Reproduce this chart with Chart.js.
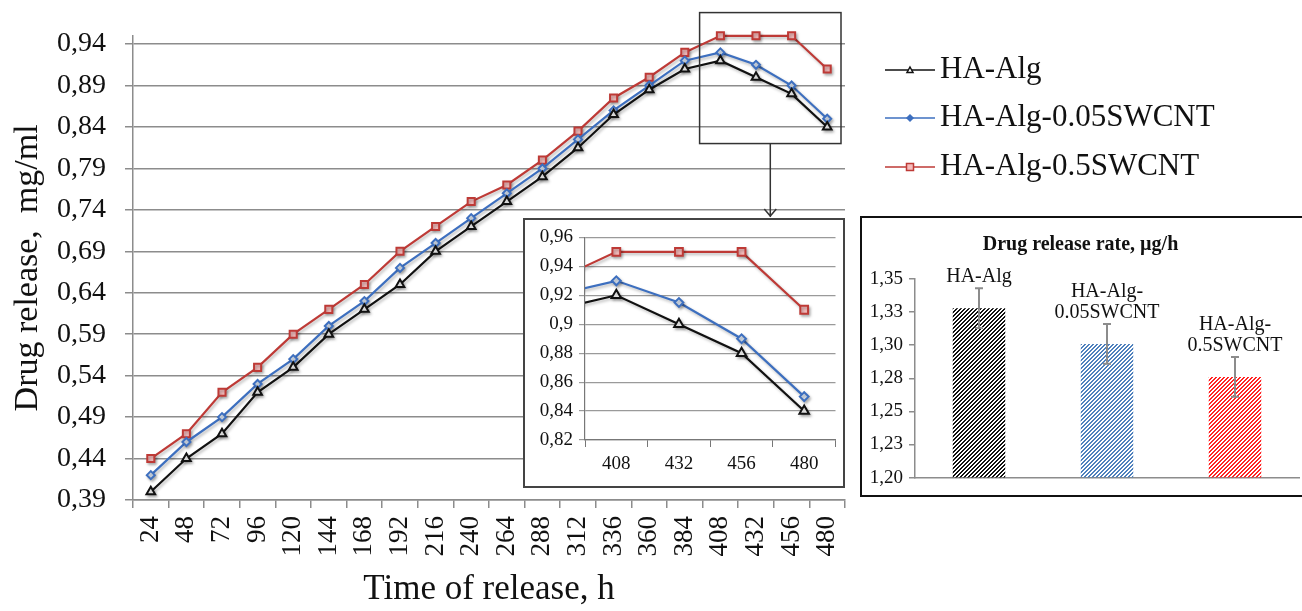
<!DOCTYPE html>
<html>
<head>
<meta charset="utf-8">
<script src="https://cdn.jsdelivr.net/npm/chart.js@4.4.1/dist/chart.umd.min.js"></script>
<style>
  html, body { margin: 0; padding: 0; background: #fff; overflow: hidden; }
  #wrap { position: relative; width: 1302px; height: 611px; }
  #main { position: absolute; left: 0; top: 0; }
  #zoomBox { position: absolute; left: 523px; top: 218px; width: 318px; height: 266px; border: 2px solid #444; background: #fff; }
  #rateBox { position: absolute; left: 860px; top: 216px; width: 450px; height: 277px; border: 2px solid #111; background: #fff; }
  #zoomBox canvas, #rateBox canvas { display: block; }
</style>
</head>
<body>
<div id="wrap">
  <canvas id="main" width="1302" height="611"></canvas>
  <div id="zoomBox"><canvas id="zoomChart" width="318" height="266"></canvas></div>
  <div id="rateBox"><canvas id="rateChart" width="450" height="277"></canvas></div>
</div>
<script>
// data
const timeLabels = ['24', '48', '72', '96', '120', '144', '168', '192', '216', '240',
  '264', '288', '312', '336', '360', '384', '408', '432', '456', '480'];
const haAlg = [0.40, 0.44, 0.47, 0.52, 0.55, 0.59, 0.62, 0.65, 0.69, 0.72,
  0.75, 0.78, 0.815, 0.855, 0.885, 0.91, 0.92, 0.90, 0.88, 0.84];
const haAlg005 = [0.42, 0.46, 0.49, 0.53, 0.56, 0.60, 0.63, 0.67, 0.70, 0.73,
  0.76, 0.79, 0.825, 0.86, 0.89, 0.92, 0.93, 0.915, 0.89, 0.85];
const haAlg05 = [0.44, 0.47, 0.52, 0.55, 0.59, 0.62, 0.65, 0.69, 0.72, 0.75,
  0.77, 0.80, 0.835, 0.875, 0.90, 0.93, 0.95, 0.95, 0.95, 0.91];
const seriesNames = ['HA-Alg', 'HA-Alg-0.05SWCNT', 'HA-Alg-0.5SWCNT'];
const mainTicks = [0.39, 0.44, 0.49, 0.54, 0.59, 0.64, 0.69, 0.74, 0.79, 0.84, 0.89, 0.94];

// zoomed inset starts here
const zoomFrom = '408';

// bar inset
const rateNames = [['HA-Alg'], ['HA-Alg-', '0.05SWCNT'], ['HA-Alg-', '0.5SWCNT']];
const rateValues = [1.328, 1.301, 1.276];
const rateErrors = [0.015, 0.015, 0.015];

Chart.defaults.font.family = '"Liberation Serif", "Times New Roman", serif';
Chart.defaults.color = '#111';
Chart.defaults.animation = false;

const gridGray = '#8c8c8c';
const comma = (v, d) => v.toFixed(d).replace('.', ',');

const styles = [
  { color: '#111111', fill: '#ffffff', pointStyle: 'triangle', radius: 5 },
  { color: '#3d6fbf', fill: '#dfe9f6', pointStyle: 'rectRot', radius: 4 },
  { color: '#be3a36', fill: '#f5bcbc', pointStyle: 'rect', radius: 5 }
];

function makeSets(radiusScale) {
  return [haAlg, haAlg005, haAlg05].map((d, i) => ({
    label: seriesNames[i],
    data: d,
    borderColor: styles[i].color,
    backgroundColor: styles[i].fill,
    borderWidth: 2.2,
    pointStyle: styles[i].pointStyle,
    pointRadius: styles[i].radius * radiusScale,
    pointBorderWidth: 2,
    pointBorderColor: styles[i].color,
    pointBackgroundColor: styles[i].fill,
    tension: 0
  }));
}

// soft shadow under the lines, like the original
const lineShadow = {
  id: 'lineShadow',
  beforeDatasetsDraw(chart) {
    const ctx = chart.ctx;
    ctx.save();
    ctx.shadowColor = 'rgba(0,0,0,0.28)';
    ctx.shadowBlur = 3;
    ctx.shadowOffsetX = 1.5;
    ctx.shadowOffsetY = 2;
  },
  afterDatasetsDraw(chart) {
    chart.ctx.restore();
  }
};

// small marker for the legend
function marker(ctx, style, x, y, r) {
  ctx.beginPath();
  if (style === 'triangle') {
    ctx.moveTo(x, y - r);
    ctx.lineTo(x + r, y + r * 0.8);
    ctx.lineTo(x - r, y + r * 0.8);
    ctx.closePath();
  } else if (style === 'rectRot') {
    ctx.moveTo(x, y - r); ctx.lineTo(x + r, y); ctx.lineTo(x, y + r); ctx.lineTo(x - r, y);
    ctx.closePath();
  } else {
    ctx.rect(x - r, y - r, r * 2, r * 2);
  }
  ctx.fill();
  ctx.stroke();
}

const mainExtras = {
  id: 'mainExtras',
  afterDraw(chart) {
    const { ctx, scales: { x, y } } = chart;
    ctx.save();
    // legend
    const rows = [70, 118, 167];
    chart.data.datasets.forEach((ds, i) => {
      const yy = rows[i];
      ctx.strokeStyle = ds.borderColor;
      ctx.lineWidth = 1.6;
      ctx.beginPath(); ctx.moveTo(885, yy); ctx.lineTo(935, yy); ctx.stroke();
      ctx.fillStyle = i === 1 ? ds.borderColor : ds.backgroundColor;
      ctx.lineWidth = 1.5;
      marker(ctx, ds.pointStyle, 910, yy, i === 2 ? 3.5 : 3);
      ctx.fillStyle = '#111';
      ctx.font = '31px "Liberation Serif"';
      ctx.textBaseline = 'middle';
      ctx.textAlign = 'left';
      ctx.fillText(ds.label, 940, yy);
    });
    // zoom frame and arrow
    const i0 = timeLabels.indexOf(zoomFrom);
    const half = (x.getPixelForValue(1) - x.getPixelForValue(0)) / 2;
    const left = x.getPixelForValue(i0) - half - 3;
    const right = x.getPixelForValue(timeLabels.length - 1) + half - 4;
    const top = y.getPixelForValue(0.978);
    const bottom = y.getPixelForValue(0.82);
    ctx.strokeStyle = '#333';
    ctx.lineWidth = 1.5;
    ctx.strokeRect(left, top, right - left, bottom - top);
    const cx = (left + right) / 2;
    ctx.beginPath();
    ctx.moveTo(cx, bottom); ctx.lineTo(cx, 217);
    ctx.moveTo(cx - 6, 209); ctx.lineTo(cx, 216); ctx.lineTo(cx + 6, 209);
    ctx.stroke();
    ctx.restore();
  }
};

new Chart(document.getElementById('main'), {
  type: 'line',
  data: { labels: timeLabels, datasets: makeSets(1).map(d => ({ ...d, clip: false })) },
  options: {
    responsive: false,
    layout: { padding: { top: 31, right: 457, left: 0, bottom: 0 } },
    plugins: { legend: { display: false }, tooltip: { enabled: false } },
    scales: {
      x: {
        offset: true,
        grid: { offset: true, drawOnChartArea: false, tickLength: 8, color: gridGray, lineWidth: 1.5 },
        border: { color: gridGray, width: 1.5 },
        ticks: { autoSkip: false, minRotation: 90, maxRotation: 90, padding: 8, font: { size: 27 } },
        title: { display: true, text: 'Time of release, h', font: { size: 35 }, padding: 0 },
        afterFit: s => { s.height = 111; }
      },
      y: {
        min: 0.39, max: 0.95,
        grid: { color: gridGray, lineWidth: 1.5, tickLength: 8 },
        border: { color: gridGray, width: 1.5 },
        ticks: { padding: 19, font: { size: 28 }, callback: v => comma(v, 2) },
        afterBuildTicks: s => { s.ticks = mainTicks.map(v => ({ value: v })); },
        title: { display: true, text: 'Drug release,  mg/ml', font: { size: 34 }, padding: { top: 8 } },
        afterFit: s => { s.width = 133; }
      }
    }
  },
  plugins: [lineShadow, mainExtras]
});

// zoomed inset
new Chart(document.getElementById('zoomChart'), {
  type: 'line',
  data: { labels: timeLabels, datasets: makeSets(1.1) },
  options: {
    responsive: false,
    layout: { padding: { top: 12, right: 5, left: 0, bottom: 0 } },
    plugins: { legend: { display: false }, tooltip: { enabled: false } },
    scales: {
      x: {
        min: zoomFrom,
        offset: true,
        grid: { offset: true, drawOnChartArea: false, tickLength: 7, color: '#777' },
        border: { color: '#777', width: 1.2 },
        ticks: { padding: 6, maxRotation: 0, font: { size: 19 } },
        afterFit: s => { s.height = 46; }
      },
      y: {
        min: 0.82, max: 0.96,
        grid: { color: '#9a9a9a', lineWidth: 1.2, tickLength: 6 },
        border: { color: '#777', width: 1.2 },
        ticks: { stepSize: 0.02, padding: 6, font: { size: 19 },
          callback: v => String(+v.toFixed(2)).replace('.', ',') },
        afterFit: s => { s.width = 60; }
      }
    }
  },
  plugins: [lineShadow]
});

// hatch fill
function hatch(color) {
  const c = document.createElement('canvas');
  c.width = c.height = 4;
  const g = c.getContext('2d');
  g.fillStyle = color;
  for (let i = 0; i < 4; i++) {
    for (let j = 0; j < 4; j++) {
      if ((i + j) % 4 < 2) g.fillRect(i, j, 1, 1);
    }
  }
  return g.createPattern(c, 'repeat');
}

const errorBars = {
  id: 'errorBars',
  afterDatasetsDraw(chart) {
    const { ctx, scales: { y } } = chart;
    const meta = chart.getDatasetMeta(0);
    ctx.save();
    meta.data.forEach((bar, i) => {
      const yt = y.getPixelForValue(rateValues[i] + rateErrors[i]);
      const yb = y.getPixelForValue(rateValues[i] - rateErrors[i]);
      ctx.strokeStyle = '#8c8c8c';
      ctx.lineWidth = 2;
      ctx.beginPath();
      ctx.moveTo(bar.x, yt); ctx.lineTo(bar.x, yb);
      ctx.moveTo(bar.x - 4, yt); ctx.lineTo(bar.x + 4, yt);
      ctx.moveTo(bar.x - 4, yb); ctx.lineTo(bar.x + 4, yb);
      ctx.stroke();
      const lines = rateNames[i];
      ctx.fillStyle = '#111';
      ctx.font = '20px "Liberation Serif"';
      ctx.textAlign = 'center';
      ctx.textBaseline = 'alphabetic';
      lines.forEach((t, k) => {
        ctx.fillText(t, bar.x, yt - 6 - (lines.length - 1 - k) * 21);
      });
    });
    ctx.restore();
  }
};

new Chart(document.getElementById('rateChart'), {
  type: 'bar',
  data: {
    labels: rateNames.map(n => n.join('')),
    datasets: [{
      data: rateValues,
      backgroundColor: [hatch('#111'), hatch('#4f81bd'), hatch('#ff2424')],
      borderWidth: 0,
      categoryPercentage: 1,
      barPercentage: 0.41
    }]
  },
  options: {
    responsive: false,
    layout: { padding: { top: 0, right: 13, left: 0, bottom: 0 } },
    plugins: {
      legend: { display: false },
      tooltip: { enabled: false },
      title: { display: true, text: 'Drug release rate, µg/h', font: { size: 20, weight: 'bold' },
        color: '#111', padding: { top: 15, bottom: 22 } }
    },
    scales: {
      x: {
        grid: { display: false },
        border: { color: gridGray, width: 1.5 },
        ticks: { display: false },
        afterFit: s => { s.height = 17; }
      },
      y: {
        min: 1.2, max: 1.35,
        grid: { drawOnChartArea: false, tickLength: 6, color: gridGray, lineWidth: 1.5 },
        border: { color: gridGray, width: 1.5 },
        ticks: { stepSize: 0.025, padding: 6, font: { size: 19 }, callback: v => comma(v + 1e-9, 2) },
        afterFit: s => { s.width = 53; }
      }
    }
  },
  plugins: [errorBars]
});
</script>
</body>
</html>
